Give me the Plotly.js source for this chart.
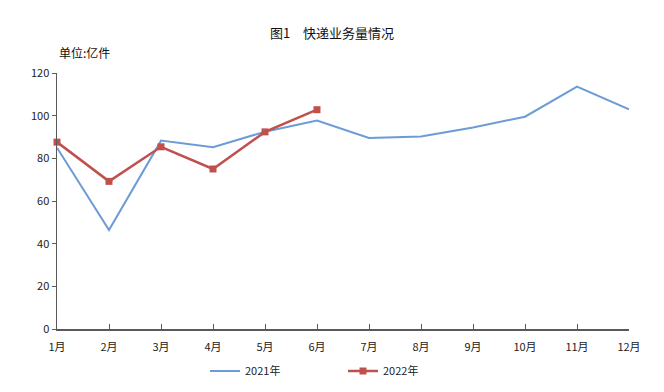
<!DOCTYPE html>
<html><head><meta charset="utf-8">
<script src="https://cdn.plot.ly/plotly-3.0.1.min.js"></script>
<style>body{margin:0;background:#fff}#c{width:664px;height:392px}</style>
</head><body><div id="c"></div>
<script>
const months = ['1月','2月','3月','4月','5月','6月','7月','8月','9月','10月','11月','12月'];
const v2021 = [85, 46.4, 88.3, 85.2, 92.5, 97.7, 89.5, 90.2, 94.5, 99.5, 113.6, 103];
const months2022 = ['1月','2月','3月','4月','5月','6月'];
const v2022 = [87.6, 69.2, 85.4, 75.0, 92.4, 102.8];
const yTicks = [0, 20, 40, 60, 80, 100, 120];
const F = 'Noto Sans CJK SC, sans-serif';

const traces = [
  {x: months, y: v2021, name: '2021年', type: 'scatter', mode: 'lines',
   line: {color: '#6c9bd6', width: 2}, cliponaxis: false},
  {x: months2022, y: v2022, name: '2022年', type: 'scatter', mode: 'lines+markers',
   line: {color: '#c0504d', width: 2.5}, marker: {symbol: 'square', size: 7, color: '#c0504d'},
   cliponaxis: false}
];
const layout = {
  width: 664, height: 392,
  margin: {l: 57, r: 35, t: 73, b: 63, autoexpand: false},
  paper_bgcolor: '#fff', plot_bgcolor: '#fff',
  font: {family: F, size: 11, color: '#222'},
  title: {text: '图1　快递业务量情况', x: 0.5, xanchor: 'center', y: 1 - 33/392, yanchor: 'middle',
          font: {family: F, size: 13, color: '#111'}},
  showlegend: true,
  legend: {orientation: 'h', x: (205-57)/572, xanchor: 'left', yref: 'container', y: (392-371)/392, yanchor: 'middle',
           font: {family: F, size: 11, color: '#222'}, itemwidth: 30, entrywidth: 93, tracegroupgap: 0},
  xaxis: {type: 'category', categoryorder: 'array', categoryarray: months,
          range: [0, 11], showgrid: false, zeroline: false, automargin: false,
          showline: true, linecolor: '#595959', linewidth: 1.5,
          ticks: 'inside', ticklen: 5, tickcolor: '#595959', tickwidth: 1, ticklabelstandoff: 7,
          tickfont: {family: F, size: 11, color: '#222'}, fixedrange: true},
  yaxis: {range: [0, 120], tickvals: yTicks, showgrid: false, zeroline: false, automargin: false,
          showline: true, linecolor: '#595959', linewidth: 1.5,
          ticks: 'outside', ticklen: 4, tickcolor: '#595959', tickwidth: 1,
          tickfont: {family: F, size: 11, color: '#222'}, fixedrange: true},
  annotations: [{text: '单位:亿件', xref: 'paper', yref: 'paper', x: 0, y: 1 + (73-52)/256,
                 xanchor: 'left', yanchor: 'middle', showarrow: false,
                 font: {family: F, size: 12, color: '#111'}}]
};
Plotly.newPlot('c', traces, layout, {staticPlot: true, displayModeBar: false});
</script></body></html>
